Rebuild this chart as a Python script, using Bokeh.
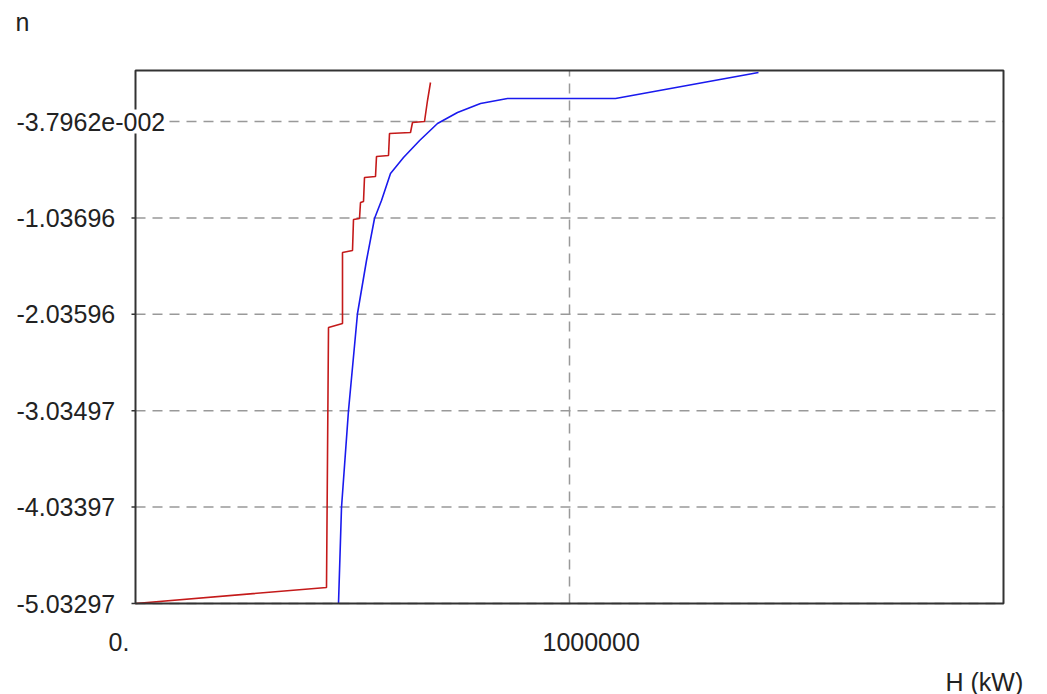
from bokeh.plotting import figure
from bokeh.models import Range1d, Label
from bokeh.embed import file_html
from bokeh.resources import INLINE

# ---- data ----
red_h = [0, 440093, 444700, 476959, 476959, 500000, 502305, 516130, 518434,
         525346, 527650, 552996, 555300, 582950, 585254, 633641, 638249,
         665899, 672811, 679723]
red_n = [-5.03297, -4.8671, -2.1728, -2.1313, -1.3955, -1.3748, -1.0535,
         -1.0432, -0.8774, -0.8670, -0.6183, -0.6079, -0.4007, -0.3903,
         -0.1623, -0.1520, -0.0483, -0.0380, 0.1796, 0.3662]

blue_h = [467742, 474654, 490783, 511521, 532258, 550691, 566821, 587558,
          617512, 654683, 695853, 741936, 794931, 857143, 1105991, 1435484]
blue_n = [-5.0330, -4.0381, -3.0330, -2.0277, -1.4784, -1.0432, -0.8567,
          -0.5768, -0.4110, -0.2349, -0.0587, 0.0553, 0.1486, 0.2004,
          0.2004, 0.4698]

y_ticks = [-5.03297, -4.03397, -3.03497, -2.03596, -1.03696, -0.037962]
y_tick_labels = ["-5.03297", "-4.03397", "-3.03497", "-2.03596", "-1.03696",
                 "-3.7962e-002"]
x_ticks = [0, 1000000]
x_tick_labels = ["0.", "1000000"]

x_title = "H (kW)"
y_title = "n"

# plot-area limits (data units)
X_MIN, X_MAX = 0, 2000000
Y_MIN, Y_MAX = -5.03297, 0.4906

W, H = 1047, 694
# pixel placement of the plot area inside the canvas
PX_L, PX_R, PX_T, PX_B = 135, 1003, 70, 603
sx = (X_MAX - X_MIN) / (PX_R - PX_L)
sy = (Y_MAX - Y_MIN) / (PX_B - PX_T)
xr = Range1d(X_MIN - PX_L * sx, X_MAX + (W - PX_R) * sx)
yr = Range1d(Y_MIN - (H - PX_B) * sy, Y_MAX + PX_T * sy)

FONT = "Liberation Sans"
FSIZE = "25px"
TCOLOR = "#222222"

p = figure(width=W, height=H, output_backend="svg", toolbar_location=None,
           x_range=xr, y_range=yr, min_border=0)
p.xaxis.visible = False
p.yaxis.visible = False
p.xgrid.visible = False
p.ygrid.visible = False
p.outline_line_color = None
p.background_fill_color = "white"
p.border_fill_color = "white"

GRID = dict(line_color="#999999", line_width=1.5, line_dash="10 7")
p.segment(x0=[X_MIN] * len(y_ticks), x1=[X_MAX] * len(y_ticks),
          y0=y_ticks, y1=y_ticks, **GRID)
p.segment(x0=x_ticks[1:], x1=x_ticks[1:], y0=[Y_MIN] * (len(x_ticks) - 1),
          y1=[Y_MAX] * (len(x_ticks) - 1), **GRID)

# small outside tick marks on the left axis
p.segment(x0=[X_MIN - 4 * sx] * len(y_ticks), x1=[X_MIN] * len(y_ticks),
          y0=y_ticks, y1=y_ticks, line_color="#333333", line_width=1.5)

p.line(red_h, red_n, line_color="#c41a1a", line_width=1.6)
p.line(blue_h, blue_n, line_color="#1a1aee", line_width=1.6)

# plot area border
p.quad(left=[X_MIN], right=[X_MAX], bottom=[Y_MIN], top=[Y_MAX],
       fill_color=None, line_color="#333333", line_width=2)

for v, t in zip(y_ticks, y_tick_labels):
    p.add_layout(Label(x=X_MIN, y=v, text=t, x_offset=-122, y_offset=0,
                       text_align="left", text_baseline="alphabetic",
                       text_font=FONT, text_font_size=FSIZE, text_color=TCOLOR,
                       background_fill_color="white", padding=3))

for v, t in zip(x_ticks, x_tick_labels):
    p.add_layout(Label(x=v, y=Y_MIN, text=t, x_offset=-27, y_offset=-38,
                       text_align="left", text_baseline="middle",
                       text_font=FONT, text_font_size=FSIZE, text_color=TCOLOR))

p.add_layout(Label(x=X_MIN, y=Y_MAX, text=y_title, x_offset=-120, y_offset=49,
                   text_align="left", text_baseline="middle",
                   text_font=FONT, text_font_size=FSIZE, text_color=TCOLOR))
p.add_layout(Label(x=X_MAX, y=Y_MIN, text=x_title, x_offset=-58, y_offset=-78,
                   text_align="left", text_baseline="middle",
                   text_font=FONT, text_font_size=FSIZE, text_color=TCOLOR))

open("out.html", "w").write(file_html(p, INLINE))
